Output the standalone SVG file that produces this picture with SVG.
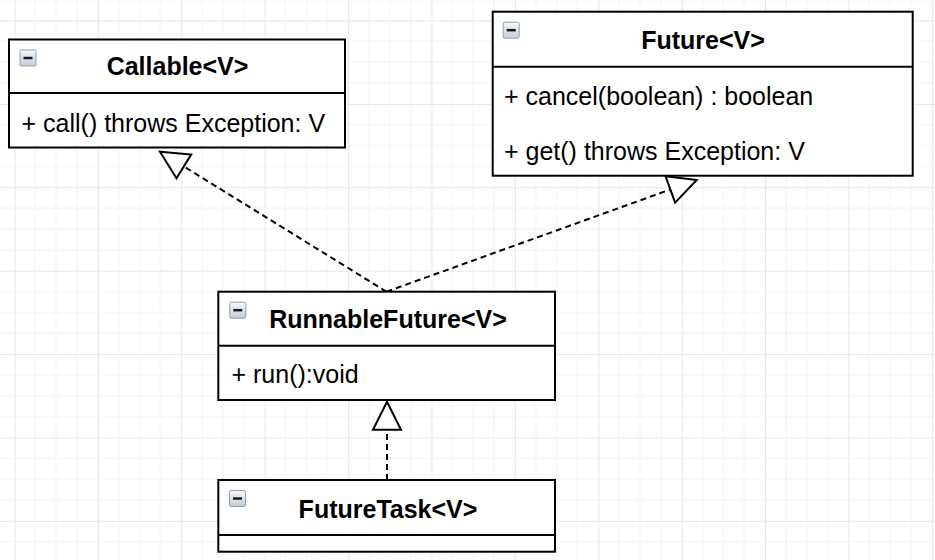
<svg xmlns="http://www.w3.org/2000/svg" width="935" height="560" viewBox="0 0 935 560">
  <style>
    .box { fill: #ffffff; stroke: #000000; stroke-width: 2; }
    .div { stroke: #000000; stroke-width: 2; fill: none; }
    .title { font-family: "Liberation Sans", Arial, sans-serif; font-size: 25px; font-weight: bold; fill: #000000; text-anchor: middle; }
    .mem { font-family: "Liberation Sans", Arial, sans-serif; font-size: 25px; fill: #000000; }
    .conn { stroke: #000000; stroke-width: 2; fill: none; stroke-dasharray: 6 4; marker-end: url(#realize); }
    .icon-bg { fill: url(#iconGrad); stroke: #8fa1b5; stroke-width: 1; }
    .icon-minus { stroke: #1a1a1a; stroke-width: 2.5; }
  </style>
  <defs>
    <pattern id="grid" x="14.5" y="20.5" width="83.4" height="83.4" patternUnits="userSpaceOnUse">
      <path d="M20.85,0 V83.4 M41.7,0 V83.4 M62.55,0 V83.4 M0,20.85 H83.4 M0,41.7 H83.4 M0,62.55 H83.4" stroke="#f1f1f1" stroke-width="1" fill="none"/>
      <path d="M0.5,0 V83.4 M0,0.5 H83.4" stroke="#e6e6e6" stroke-width="1" fill="none"/>
    </pattern>
    <linearGradient id="iconGrad" x1="0" y1="0" x2="0" y2="1">
      <stop offset="0" stop-color="#f6f8fb"/>
      <stop offset="1" stop-color="#c3ccd6"/>
    </linearGradient>
    <marker id="realize" viewBox="0 0 28 28" refX="28" refY="14" markerWidth="28" markerHeight="28" orient="auto" markerUnits="userSpaceOnUse" overflow="visible">
      <path d="M0,0 L28,14 L0,28 Z" fill="#ffffff" stroke="#000000" stroke-width="2" stroke-dasharray="none" stroke-linejoin="miter"/>
    </marker>
    <g id="icon">
      <rect class="icon-bg" x="0.5" y="0.5" width="16" height="16" rx="1.5"/>
      <line class="icon-minus" x1="4" y1="8.5" x2="13" y2="8.5"/>
    </g>
  </defs>

  <rect x="0" y="0" width="935" height="560" fill="#ffffff"/>
  <rect x="0" y="0" width="935" height="560" fill="url(#grid)"/>

  <g id="connectors">
    <line class="conn" x1="386.5" y1="291.7" x2="160" y2="151.7"/>
    <line class="conn" x1="386.5" y1="291.7" x2="696.7" y2="180"/>
    <line class="conn" x1="387" y1="480" x2="387" y2="401.7"/>
  </g>

  <g id="callable">
    <rect class="box" x="9" y="39.5" width="336" height="108"/>
    <line class="div" x1="9" y1="93" x2="345" y2="93"/>
    <use href="#icon" x="19.5" y="49.5"/>
    <text class="title" x="177.5" y="75">Callable&lt;V&gt;</text>
    <text class="mem" x="21.5" y="131.7">+ call() throws Exception: V</text>
  </g>

  <g id="future">
    <rect class="box" x="492.7" y="11.7" width="420" height="164"/>
    <line class="div" x1="492.7" y1="66.7" x2="912.7" y2="66.7"/>
    <use href="#icon" x="502.7" y="21.7"/>
    <text class="title" x="703" y="49.3">Future&lt;V&gt;</text>
    <text class="mem" x="504" y="105">+ cancel(boolean) : boolean</text>
    <text class="mem" x="504" y="160">+ get() throws Exception: V</text>
  </g>

  <g id="runnablefuture">
    <rect class="box" x="218.3" y="291.7" width="336.7" height="108.3"/>
    <line class="div" x1="218.3" y1="345.7" x2="555" y2="345.7"/>
    <use href="#icon" x="229.3" y="301.7"/>
    <text class="title" x="388" y="328.3">RunnableFuture&lt;V&gt;</text>
    <text class="mem" x="231.5" y="383.3">+ run():void</text>
  </g>

  <g id="futuretask">
    <rect class="box" x="218.3" y="480" width="336.7" height="71.7"/>
    <line class="div" x1="218.3" y1="535" x2="555" y2="535"/>
    <use href="#icon" x="229" y="490"/>
    <text class="title" x="388" y="518.3">FutureTask&lt;V&gt;</text>
  </g>
</svg>
